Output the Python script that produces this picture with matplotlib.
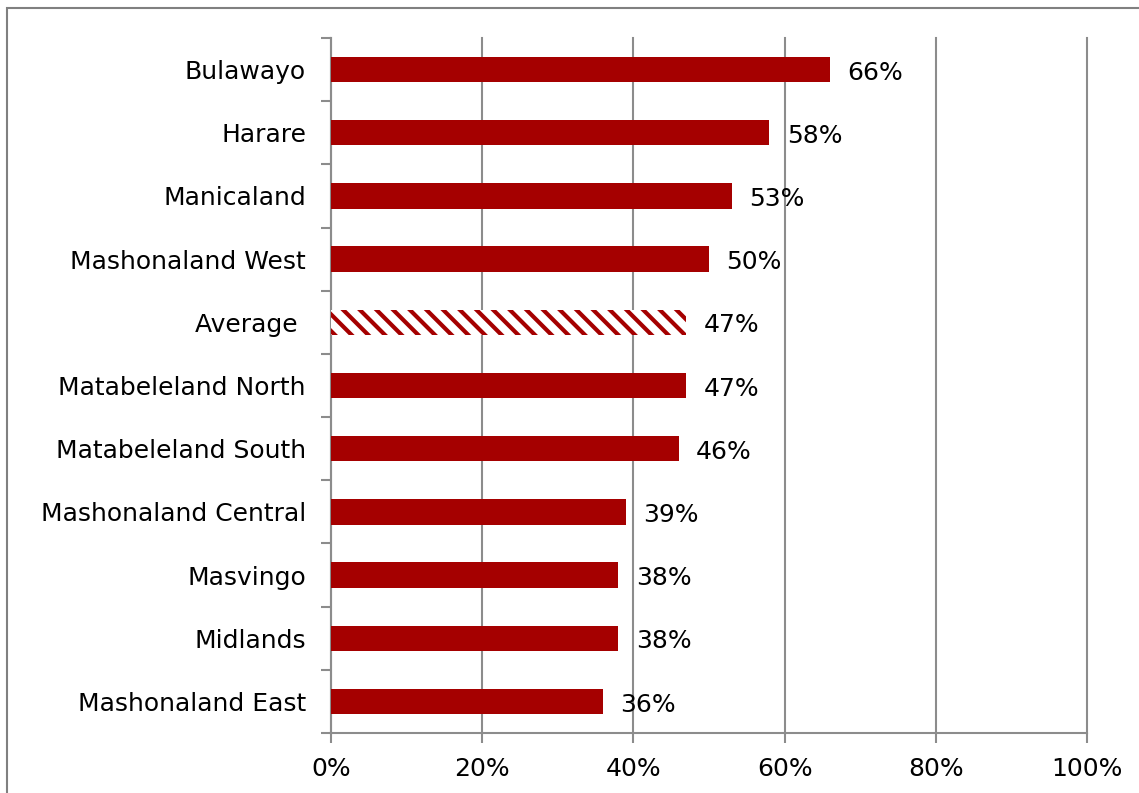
import matplotlib.pyplot as plt
import matplotlib.patches as mpatches
import numpy as np

# data, top to bottom as in the chart
regions = ['Bulawayo', 'Harare', 'Manicaland', 'Mashonaland West', 'Average ',
           'Matabeleland North', 'Matabeleland South', 'Mashonaland Central',
           'Masvingo', 'Midlands', 'Mashonaland East']
values = [66, 58, 53, 50, 47, 47, 46, 39, 38, 38, 36]
xticks = [0, 20, 40, 60, 80, 100]
xtick_labels = ['0%', '20%', '40%', '60%', '80%', '100%']

red = '#A50000'
grey = '#8C8C8C'

plt.rcParams['font.family'] = ['DejaVu Sans']
plt.rcParams['hatch.linewidth'] = 3
fs = 18

fig = plt.figure(figsize=(11.39, 7.93), dpi=100)
ax = fig.add_axes([331 / 1139, 60 / 793, 756 / 1139, 695 / 793])

y = np.arange(len(regions))
for i, (name, v) in enumerate(zip(regions, values)):
    if name.strip() == 'Average':
        ax.barh(i, v, height=0.4, facecolor='white', edgecolor=red,
                hatch='\\\\', linewidth=0, zorder=3)
    else:
        ax.barh(i, v, height=0.4, color=red, zorder=3)
    ax.text(v + 2.3, i + 0.05, f'{v}%', va='center', ha='left', fontsize=fs)

ax.set_ylim(len(regions) - 0.5, -0.5)
ax.set_xlim(0, 100)
ax.set_yticks(y)
ax.set_yticklabels(regions, fontsize=fs)
ax.set_yticks(np.arange(-0.5, len(regions)), minor=True)
ax.tick_params(axis='y', which='major', length=0, pad=18)
ax.tick_params(axis='y', which='minor', length=7, width=1.5, color=grey)

ax.set_xticks(xticks)
ax.set_xticklabels(xtick_labels, fontsize=fs)
ax.tick_params(axis='x', length=7, width=1.5, color=grey, pad=10)
ax.grid(axis='x', color=grey, linewidth=1.5, zorder=0)
for gl in ax.get_xgridlines():
    gl.set_clip_on(False)

for s in ['top', 'right']:
    ax.spines[s].set_visible(False)
for s in ['left', 'bottom']:
    ax.spines[s].set_color(grey)
    ax.spines[s].set_linewidth(1.5)

# outer frame of the slide
frame = mpatches.Rectangle((7 / 1139, -0.1), 1.2, 1 - 8 / 793 + 0.1,
                           transform=fig.transFigure, fill=False,
                           edgecolor='#808080', linewidth=1.5)
fig.patches.append(frame)

fig.savefig('out.png', dpi=100)
